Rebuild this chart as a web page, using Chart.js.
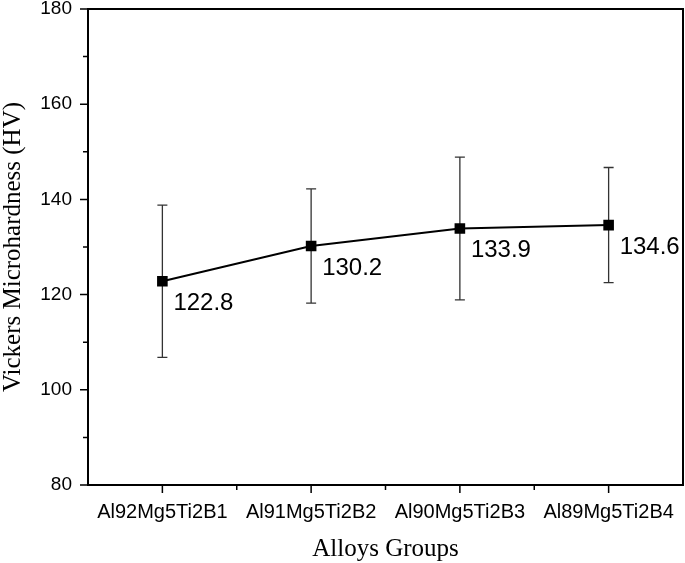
<!DOCTYPE html>
<html>
<head>
<meta charset="utf-8">
<script src="https://cdn.jsdelivr.net/npm/chart.js@4"></script>
<style>
  body { margin: 0; background: #fff; }
  #wrap { width: 685px; height: 563px; position: relative; }
</style>
</head>
<body>
<div id="wrap"><canvas id="hardnessChart"></canvas></div>
<script>
// Data
const alloys = ['Al92Mg5Ti2B1', 'Al91Mg5Ti2B2', 'Al90Mg5Ti2B3', 'Al89Mg5Ti2B4'];
const hardness = [122.8, 130.2, 133.9, 134.6];
const hardnessErr = [16.0, 12.0, 15.0, 12.1];
const yMajorTicks = [80, 100, 120, 140, 160, 180];
const yMinorTicks = [90, 110, 130, 150, 170];

// Vertical error bars with caps, drawn under the markers
const errorBars = {
    id: 'errorBars',
    beforeDatasetsDraw(chart) {
        const { ctx, scales: { x, y } } = chart;
        ctx.save();
        ctx.strokeStyle = '#333';
        ctx.lineWidth = 1.3;
        hardness.forEach((v, i) => {
            const px = x.getPixelForValue(i);
            const top = y.getPixelForValue(v + hardnessErr[i]);
            const bot = y.getPixelForValue(v - hardnessErr[i]);
            ctx.beginPath();
            ctx.moveTo(px, top); ctx.lineTo(px, bot);
            ctx.moveTo(px - 5, top); ctx.lineTo(px + 5, top);
            ctx.moveTo(px - 5, bot); ctx.lineTo(px + 5, bot);
            ctx.stroke();
        });
        ctx.restore();
    }
};

// Value labels to the lower right of each point
const valueLabels = {
    id: 'valueLabels',
    afterDatasetsDraw(chart) {
        const { ctx } = chart;
        const meta = chart.getDatasetMeta(0);
        ctx.save();
        ctx.fillStyle = '#000';
        ctx.font = '24px "Liberation Sans", Arial, sans-serif';
        ctx.textAlign = 'left';
        ctx.textBaseline = 'middle';
        meta.data.forEach((pt, i) => {
            ctx.fillText(hardness[i].toFixed(1), pt.x + 11, pt.y + 22);
        });
        ctx.restore();
    }
};

// Outward tick marks (major + minor) and the top/right frame
const axisTicks = {
    id: 'axisTicks',
    afterDraw(chart) {
        const { ctx, chartArea: a, scales: { x, y } } = chart;
        ctx.save();
        ctx.strokeStyle = '#000';
        ctx.lineWidth = 2;
        ctx.beginPath();
        ctx.moveTo(a.left, a.top); ctx.lineTo(a.right, a.top); ctx.lineTo(a.right, a.bottom);
        ctx.stroke();

        ctx.lineWidth = 1.5;
        ctx.beginPath();
        yMajorTicks.forEach(v => {
            const py = y.getPixelForValue(v);
            ctx.moveTo(a.left, py); ctx.lineTo(a.left - 8, py);
        });
        yMinorTicks.forEach(v => {
            const py = y.getPixelForValue(v);
            ctx.moveTo(a.left, py); ctx.lineTo(a.left - 5, py);
        });
        alloys.forEach((c, i) => {
            const px = x.getPixelForValue(i);
            ctx.moveTo(px, a.bottom); ctx.lineTo(px, a.bottom + 8);
            if (i > 0) {
                const mid = (px + x.getPixelForValue(i - 1)) / 2;
                ctx.moveTo(mid, a.bottom); ctx.lineTo(mid, a.bottom + 5);
            }
        });
        ctx.stroke();
        ctx.restore();
    }
};

// keep the plot box fixed: no extra room for overhanging labels
function noLabelPadding(scale) {
    scale.paddingTop = 0;
    scale.paddingBottom = 0;
    scale.paddingLeft = 0;
    scale.paddingRight = 0;
}

new Chart(document.getElementById('hardnessChart'), {
    type: 'line',
    data: {
        labels: alloys,
        datasets: [{
            data: hardness,
            borderColor: '#000',
            borderWidth: 2,
            pointStyle: 'rect',
            pointRadius: 7.5,
            pointBorderWidth: 0,
            pointBackgroundColor: '#000',
            pointBorderColor: '#000',
            tension: 0
        }]
    },
    options: {
        responsive: true,
        maintainAspectRatio: false,
        animation: false,
        layout: { autoPadding: false, padding: { top: 9, right: 2, left: 0, bottom: 0 } },
        plugins: {
            legend: { display: false },
            tooltip: { enabled: false }
        },
        scales: {
            x: {
                type: 'category',
                offset: true,
                grid: { display: false, drawTicks: false, tickLength: 0 },
                border: { display: true, color: '#000', width: 2 },
                ticks: {
                    color: '#000',
                    padding: 15,
                    maxRotation: 0,
                    font: { family: '"Liberation Sans", Arial, sans-serif', size: 20 }
                },
                title: {
                    display: true,
                    text: 'Alloys Groups',
                    color: '#000',
                    padding: { top: 0, bottom: 1.5 },
                    font: { family: '"Liberation Serif", "Times New Roman", serif', size: 25, lineHeight: 1 }
                },
                afterFit(scale) { scale.height = 78; noLabelPadding(scale); }
            },
            y: {
                min: 80,
                max: 180,
                grid: { display: false, drawTicks: false, tickLength: 0 },
                border: { display: true, color: '#000', width: 2 },
                ticks: {
                    stepSize: 20,
                    color: '#000',
                    padding: 16,
                    font: { family: '"Liberation Sans", Arial, sans-serif', size: 19 }
                },
                title: {
                    display: true,
                    text: 'Vickers Microhardness (HV)',
                    color: '#000',
                    padding: { top: 0.5, bottom: 0 },
                    font: { family: '"Liberation Serif", "Times New Roman", serif', size: 25, lineHeight: 1 }
                },
                afterFit(scale) { scale.width = 88; noLabelPadding(scale); }
            }
        }
    },
    plugins: [errorBars, valueLabels, axisTicks]
});
</script>
</body>
</html>
